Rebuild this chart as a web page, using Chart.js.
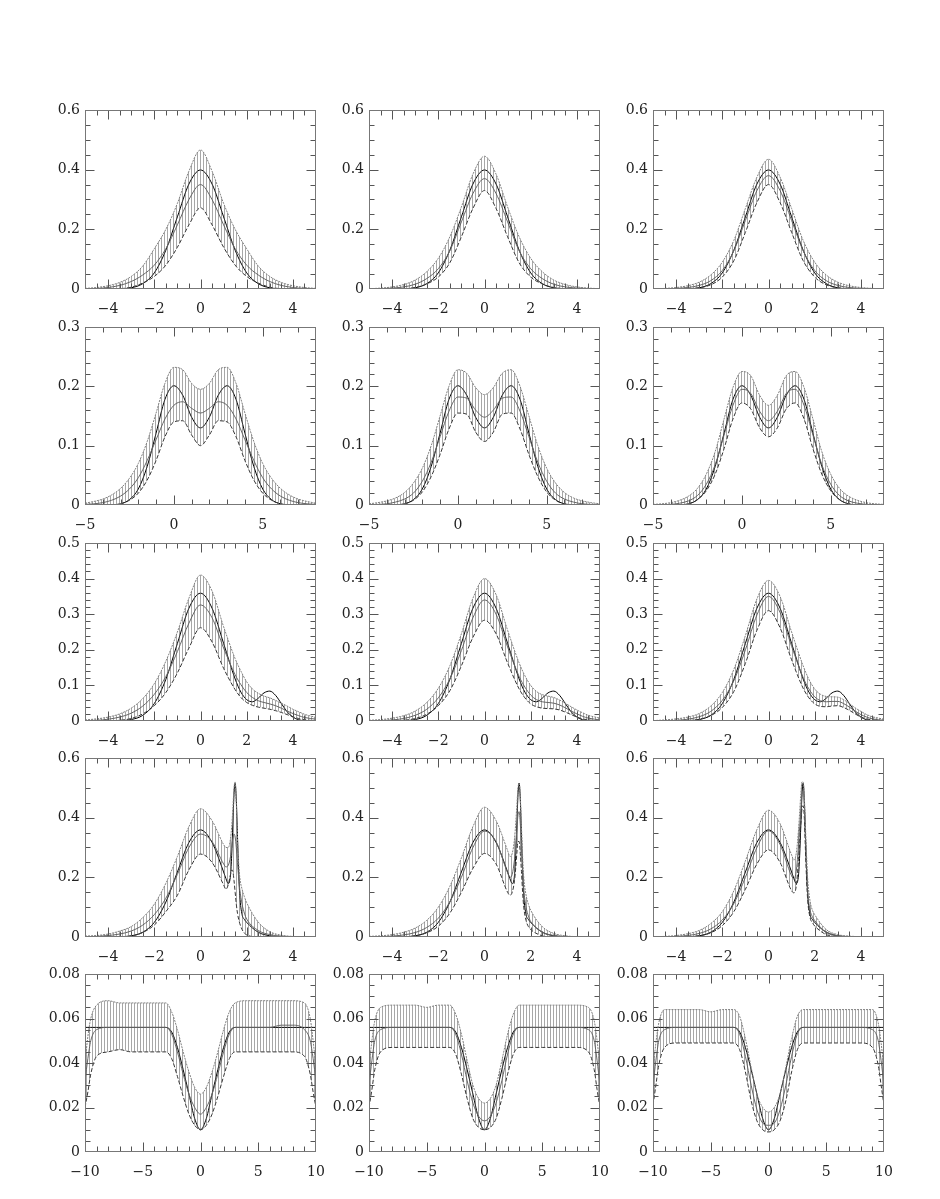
<!DOCTYPE html>
<html>
<head>
<meta charset="utf-8">
<title>Density estimates with bands</title>
<script src="https://cdn.jsdelivr.net/npm/chart.js@4.4.1/dist/chart.umd.min.js"></script>
<style>
  body { margin: 0; background: #fff; }
  #page { position: relative; width: 940px; height: 1199px; overflow: hidden; }
  .panel { position: absolute; }
</style>
</head>
<body>
<div id="page"></div>
<script>
// ---- x grids ----
const xRow1 = [-5,-4.5,-4,-3.5,-3,-2.5,-2,-1.5,-1,-0.5,0,0.5,1,1.5,2,2.5,3,3.5,4,4.5,5];
const xRow2 = [-5,-4.5,-4,-3.5,-3,-2.5,-2,-1.5,-1,-0.5,0,0.5,1,1.5,2,2.5,3,3.5,4,4.5,5,5.5,6,6.5,7,7.5,8];
const xRow3 = [-5,-4.5,-4,-3.5,-3,-2.5,-2,-1.5,-1,-0.5,0,0.5,1,1.5,1.75,2,2.25,2.5,2.75,3,3.25,3.5,3.75,4,4.25,4.5,5];
const xRow4 = [-5,-4.5,-4,-3.5,-3,-2.5,-2,-1.5,-1,-0.5,0,0.5,1,1.1,1.2,1.3,1.35,1.4,1.45,1.5,1.55,1.6,1.65,1.7,1.8,1.9,2,2.5,3,3.5,4,4.5,5];
const xRow5 = [-10,-9.75,-9.5,-9,-8,-7,-6,-5,-4,-3,-2.5,-2,-1.5,-1,-0.5,0,0.5,1,1.5,2,2.5,3,4,5,6,7,8,9,9.5,9.75,10];

// ---- tick labels ----
const xTicks5 = [-4,-2,0,2,4];
const xTicks8 = [-5,0,5];
const xTicks10 = [-10,-5,0,5,10];
const yTicks06 = [0,0.2,0.4,0.6];
const yTicks03 = [0,0.1,0.2,0.3];
const yTicks05 = [0,0.1,0.2,0.3,0.4,0.5];
const yTicks008 = [0,0.02,0.04,0.06,0.08];

// ---- row 1 ----
const true1 = [0,0,0.0001,0.0009,0.004,0.018,0.054,0.13,0.242,0.352,0.399,0.352,0.242,0.13,0.054,0.018,0.004,0.0009,0.0001,0,0];
const mean11 = [0.001,0.002,0.005,0.012,0.025,0.047,0.08,0.135,0.215,0.3,0.35,0.3,0.215,0.135,0.08,0.047,0.025,0.012,0.005,0.002,0.001];
const upper11 = [0.002,0.005,0.011,0.022,0.042,0.077,0.135,0.2,0.287,0.395,0.466,0.395,0.287,0.2,0.135,0.077,0.042,0.022,0.011,0.005,0.002];
const lower11 = [0,0,0,0.001,0.006,0.02,0.042,0.08,0.14,0.215,0.272,0.215,0.14,0.08,0.042,0.02,0.006,0.001,0,0,0];
const mean12 = [0,0.001,0.003,0.007,0.016,0.035,0.068,0.128,0.225,0.32,0.37,0.32,0.225,0.128,0.068,0.035,0.016,0.007,0.003,0.001,0];
const upper12 = [0.001,0.003,0.007,0.015,0.03,0.058,0.103,0.175,0.275,0.385,0.445,0.385,0.275,0.175,0.103,0.058,0.03,0.015,0.007,0.003,0.001];
const lower12 = [0,0,0,0.001,0.005,0.017,0.04,0.088,0.175,0.27,0.33,0.27,0.175,0.088,0.04,0.017,0.005,0.001,0,0,0];
const mean13 = [0,0,0.002,0.005,0.012,0.028,0.062,0.128,0.23,0.33,0.38,0.33,0.23,0.128,0.062,0.028,0.012,0.005,0.002,0,0];
const upper13 = [0,0.002,0.005,0.011,0.023,0.047,0.09,0.163,0.27,0.375,0.435,0.375,0.27,0.163,0.09,0.047,0.023,0.011,0.005,0.002,0];
const lower13 = [0,0,0,0.001,0.004,0.014,0.04,0.095,0.19,0.29,0.35,0.29,0.19,0.095,0.04,0.014,0.004,0.001,0,0,0];

// ---- row 2 ----
const true2 = [0,0,0.0001,0.0004,0.002,0.009,0.027,0.065,0.121,0.178,0.201,0.185,0.148,0.13,0.148,0.185,0.201,0.178,0.121,0.065,0.027,0.009,0.002,0.0004,0.0001,0,0];
const mean21 = [0.001,0.002,0.004,0.008,0.015,0.027,0.046,0.075,0.11,0.145,0.168,0.174,0.163,0.155,0.163,0.174,0.168,0.145,0.11,0.075,0.046,0.027,0.015,0.008,0.004,0.002,0.001];
const upper21 = [0.003,0.006,0.01,0.017,0.028,0.045,0.07,0.107,0.155,0.205,0.232,0.228,0.205,0.195,0.205,0.228,0.232,0.205,0.155,0.107,0.07,0.045,0.028,0.017,0.01,0.006,0.003];
const lower21 = [0,0,0,0,0.002,0.008,0.02,0.042,0.075,0.115,0.14,0.142,0.118,0.1,0.118,0.142,0.14,0.115,0.075,0.042,0.02,0.008,0.002,0,0,0,0];
const mean22 = [0,0.001,0.002,0.005,0.01,0.02,0.04,0.072,0.115,0.158,0.182,0.18,0.16,0.148,0.16,0.18,0.182,0.158,0.115,0.072,0.04,0.02,0.01,0.005,0.002,0.001,0];
const upper22 = [0.002,0.004,0.007,0.012,0.021,0.037,0.062,0.1,0.15,0.2,0.228,0.222,0.198,0.186,0.198,0.222,0.228,0.2,0.15,0.1,0.062,0.037,0.021,0.012,0.007,0.004,0.002];
const lower22 = [0,0,0,0,0.002,0.008,0.022,0.048,0.085,0.128,0.155,0.153,0.123,0.107,0.123,0.153,0.155,0.128,0.085,0.048,0.022,0.008,0.002,0,0,0,0];
const mean23 = [0,0,0.001,0.003,0.007,0.016,0.035,0.068,0.118,0.168,0.195,0.188,0.158,0.142,0.158,0.188,0.195,0.168,0.118,0.068,0.035,0.016,0.007,0.003,0.001,0,0];
const upper23 = [0.001,0.002,0.004,0.008,0.015,0.028,0.052,0.09,0.145,0.198,0.225,0.218,0.185,0.168,0.185,0.218,0.225,0.198,0.145,0.09,0.052,0.028,0.015,0.008,0.004,0.002,0.001];
const lower23 = [0,0,0,0,0.002,0.009,0.024,0.052,0.095,0.145,0.172,0.162,0.13,0.115,0.13,0.162,0.172,0.145,0.095,0.052,0.024,0.009,0.002,0,0,0,0];

// ---- row 3 ----
const true3 = [0,0,0.0001,0.0008,0.004,0.016,0.049,0.117,0.218,0.317,0.359,0.317,0.218,0.118,0.081,0.06,0.054,0.064,0.079,0.084,0.072,0.049,0.026,0.011,0.0035,0.0009,0];
const mean31 = [0.001,0.002,0.005,0.011,0.022,0.042,0.075,0.125,0.195,0.275,0.326,0.29,0.205,0.13,0.102,0.08,0.066,0.057,0.052,0.048,0.043,0.036,0.028,0.021,0.015,0.01,0.005];
const upper31 = [0.003,0.006,0.011,0.02,0.036,0.063,0.105,0.168,0.25,0.345,0.41,0.365,0.265,0.175,0.14,0.11,0.09,0.078,0.07,0.065,0.058,0.05,0.042,0.033,0.026,0.019,0.01];
const lower31 = [0,0,0,0.002,0.007,0.02,0.043,0.08,0.135,0.205,0.262,0.222,0.148,0.088,0.066,0.052,0.044,0.039,0.036,0.033,0.029,0.024,0.018,0.012,0.007,0.004,0];
const mean32 = [0,0.001,0.003,0.007,0.016,0.033,0.065,0.118,0.198,0.29,0.34,0.3,0.208,0.125,0.095,0.073,0.06,0.054,0.052,0.05,0.045,0.037,0.028,0.02,0.013,0.008,0.003];
const upper32 = [0.002,0.004,0.008,0.015,0.028,0.052,0.092,0.155,0.245,0.345,0.4,0.355,0.255,0.163,0.127,0.1,0.083,0.074,0.07,0.066,0.059,0.05,0.04,0.031,0.023,0.016,0.008];
const lower32 = [0,0,0,0.002,0.007,0.019,0.043,0.085,0.155,0.235,0.283,0.245,0.163,0.09,0.065,0.048,0.04,0.036,0.035,0.034,0.031,0.025,0.018,0.011,0.006,0.003,0];
const mean33 = [0,0,0.002,0.005,0.012,0.027,0.058,0.113,0.2,0.298,0.35,0.305,0.21,0.122,0.09,0.068,0.057,0.054,0.055,0.055,0.049,0.039,0.028,0.018,0.011,0.006,0.002];
const upper33 = [0.001,0.003,0.006,0.011,0.021,0.042,0.08,0.145,0.24,0.343,0.395,0.35,0.25,0.155,0.117,0.09,0.075,0.069,0.068,0.067,0.06,0.049,0.037,0.027,0.018,0.012,0.005];
const lower33 = [0,0,0,0.001,0.005,0.015,0.038,0.083,0.162,0.255,0.31,0.262,0.172,0.092,0.065,0.048,0.041,0.04,0.042,0.043,0.038,0.03,0.02,0.011,0.006,0.003,0];

// ---- row 4 ----
const true4 = [0,0,0.0001,0.0008,0.004,0.016,0.049,0.117,0.218,0.317,0.359,0.317,0.218,0.196,0.179,0.208,0.274,0.376,0.477,0.516,0.46,0.342,0.222,0.139,0.075,0.059,0.049,0.016,0.004,0.0008,0.0001,0,0];
const mean41 = [0.001,0.002,0.005,0.01,0.02,0.04,0.075,0.13,0.21,0.3,0.345,0.32,0.245,0.235,0.24,0.27,0.3,0.33,0.345,0.335,0.3,0.25,0.2,0.16,0.11,0.08,0.06,0.022,0.008,0.003,0.001,0,0];
const upper41 = [0.003,0.005,0.01,0.02,0.035,0.065,0.11,0.18,0.27,0.37,0.43,0.39,0.31,0.3,0.3,0.33,0.37,0.43,0.5,0.52,0.45,0.33,0.25,0.2,0.16,0.135,0.115,0.05,0.018,0.006,0.002,0.001,0];
const lower41 = [0,0,0,0,0.003,0.015,0.04,0.085,0.14,0.225,0.278,0.25,0.175,0.16,0.175,0.21,0.225,0.22,0.19,0.15,0.11,0.08,0.06,0.045,0.025,0.013,0.007,0,0,0,0,0,0];
const mean42 = [0,0.001,0.003,0.007,0.015,0.032,0.063,0.118,0.2,0.3,0.355,0.32,0.215,0.2,0.21,0.26,0.3,0.36,0.41,0.42,0.38,0.3,0.22,0.16,0.1,0.07,0.052,0.017,0.005,0.001,0,0,0];
const upper42 = [0.002,0.004,0.008,0.016,0.03,0.056,0.1,0.17,0.265,0.37,0.435,0.39,0.29,0.27,0.28,0.33,0.38,0.44,0.5,0.515,0.47,0.37,0.27,0.2,0.14,0.11,0.09,0.035,0.012,0.004,0.001,0,0];
const lower42 = [0,0,0,0,0.004,0.014,0.036,0.08,0.15,0.23,0.28,0.245,0.15,0.14,0.15,0.19,0.23,0.28,0.32,0.32,0.28,0.22,0.15,0.1,0.055,0.035,0.025,0.004,0,0,0,0,0];
const mean43 = [0,0,0.002,0.005,0.012,0.027,0.057,0.112,0.2,0.3,0.356,0.31,0.205,0.195,0.22,0.31,0.37,0.43,0.48,0.49,0.44,0.33,0.23,0.15,0.09,0.068,0.055,0.016,0.004,0.001,0,0,0];
const upper43 = [0.001,0.002,0.005,0.011,0.022,0.045,0.085,0.155,0.255,0.36,0.425,0.38,0.275,0.258,0.28,0.36,0.42,0.48,0.52,0.52,0.47,0.37,0.27,0.19,0.12,0.09,0.075,0.025,0.008,0.003,0.001,0,0];
const lower43 = [0,0,0,0,0.004,0.014,0.038,0.085,0.16,0.245,0.292,0.25,0.155,0.148,0.17,0.26,0.32,0.38,0.43,0.44,0.4,0.29,0.19,0.12,0.065,0.048,0.037,0.008,0.001,0,0,0,0];

// ---- row 5 ----
const true5 = [0.056,0.056,0.056,0.056,0.056,0.056,0.056,0.056,0.056,0.056,0.054,0.047,0.037,0.026,0.015,0.01,0.015,0.026,0.037,0.047,0.054,0.056,0.056,0.056,0.056,0.056,0.056,0.056,0.056,0.056,0.056];
const mean51 = [0.032,0.042,0.05,0.055,0.056,0.056,0.056,0.056,0.056,0.056,0.053,0.045,0.035,0.026,0.02,0.017,0.02,0.026,0.035,0.045,0.053,0.056,0.056,0.056,0.056,0.057,0.057,0.055,0.05,0.042,0.032];
const upper51 = [0.04,0.052,0.06,0.066,0.068,0.067,0.067,0.067,0.067,0.067,0.063,0.055,0.045,0.036,0.029,0.026,0.029,0.036,0.045,0.055,0.063,0.067,0.068,0.068,0.068,0.068,0.068,0.067,0.06,0.05,0.038];
const lower51 = [0.02,0.027,0.035,0.043,0.045,0.046,0.045,0.045,0.045,0.045,0.042,0.034,0.025,0.017,0.012,0.01,0.012,0.017,0.025,0.034,0.042,0.045,0.045,0.045,0.045,0.045,0.045,0.043,0.035,0.027,0.02];
const mean52 = [0.03,0.041,0.05,0.055,0.056,0.056,0.056,0.056,0.056,0.056,0.053,0.044,0.032,0.022,0.016,0.014,0.016,0.022,0.032,0.044,0.053,0.056,0.056,0.056,0.056,0.056,0.056,0.055,0.05,0.041,0.03];
const upper52 = [0.038,0.05,0.059,0.065,0.066,0.066,0.066,0.065,0.066,0.066,0.062,0.053,0.041,0.03,0.024,0.022,0.024,0.03,0.041,0.053,0.062,0.066,0.066,0.066,0.066,0.066,0.066,0.065,0.059,0.05,0.038];
const lower52 = [0.02,0.028,0.037,0.045,0.047,0.047,0.047,0.047,0.047,0.047,0.044,0.035,0.024,0.015,0.011,0.01,0.011,0.015,0.024,0.035,0.044,0.047,0.047,0.047,0.047,0.047,0.047,0.045,0.037,0.028,0.02];
const mean53 = [0.03,0.041,0.05,0.055,0.056,0.056,0.056,0.056,0.056,0.056,0.053,0.043,0.03,0.019,0.013,0.012,0.013,0.019,0.03,0.043,0.053,0.056,0.056,0.056,0.056,0.056,0.056,0.055,0.05,0.041,0.03];
const upper53 = [0.037,0.049,0.058,0.064,0.064,0.064,0.064,0.063,0.064,0.064,0.061,0.051,0.038,0.026,0.02,0.018,0.02,0.026,0.038,0.051,0.061,0.064,0.064,0.064,0.064,0.064,0.064,0.064,0.058,0.049,0.037];
const lower53 = [0.021,0.03,0.039,0.047,0.049,0.049,0.049,0.049,0.049,0.049,0.046,0.036,0.023,0.014,0.01,0.009,0.01,0.014,0.023,0.036,0.046,0.049,0.049,0.049,0.049,0.049,0.049,0.047,0.039,0.03,0.021];

// ---- layout (pixels) ----
const COL_LEFT = [85, 369, 653];
const ROW_TOP = [110, 327, 543, 758, 974];
const ROW_H = [179, 178, 178, 179, 178];
const BOX_W = 231;
const PAD_L = 50, PAD_T = 12, PAD_R = 12, PAD_B = 30;

const rows = [
  { xs: xRow1, truth: true1, xMin: -5, xMax: 5, xMinor: 0.5, xMajor: 2, xLabels: xTicks5,
    yMax: 0.6, yMinor: 0.05, yMajor: 0.2, yLabels: yTicks06,
    cols: [[upper11, lower11, mean11], [upper12, lower12, mean12], [upper13, lower13, mean13]] },
  { xs: xRow2, truth: true2, xMin: -5, xMax: 8, xMinor: 1, xMajor: 5, xLabels: xTicks8,
    yMax: 0.3, yMinor: 0.02, yMajor: 0.1, yLabels: yTicks03,
    cols: [[upper21, lower21, mean21], [upper22, lower22, mean22], [upper23, lower23, mean23]] },
  { xs: xRow3, truth: true3, xMin: -5, xMax: 5, xMinor: 0.5, xMajor: 2, xLabels: xTicks5,
    yMax: 0.5, yMinor: 0.02, yMajor: 0.1, yLabels: yTicks05,
    cols: [[upper31, lower31, mean31], [upper32, lower32, mean32], [upper33, lower33, mean33]] },
  { xs: xRow4, truth: true4, xMin: -5, xMax: 5, xMinor: 0.5, xMajor: 2, xLabels: xTicks5,
    yMax: 0.6, yMinor: 0.05, yMajor: 0.2, yLabels: yTicks06,
    cols: [[upper41, lower41, mean41], [upper42, lower42, mean42], [upper43, lower43, mean43]] },
  { xs: xRow5, truth: true5, xMin: -10, xMax: 10, xMinor: 1, xMajor: 5, xLabels: xTicks10,
    yMax: 0.08, yMinor: 0.005, yMajor: 0.02, yLabels: yTicks008,
    cols: [[upper51, lower51, mean51], [upper52, lower52, mean52], [upper53, lower53, mean53]] }
];

Chart.defaults.font.family = '"DejaVu Serif", "Liberation Serif", serif';
Chart.defaults.font.size = 14;
Chart.defaults.color = '#222';

function steps(min, max, step) {
  const out = [];
  for (let i = Math.ceil(min / step - 1e-9); i * step <= max + 1e-9; i++) out.push(i * step);
  return out;
}
function isMajor(v, major) {
  const r = v / major;
  return Math.abs(r - Math.round(r)) < 1e-6;
}

// box with inward ticks on all four sides
const frameTicks = {
  id: 'frameTicks',
  afterDatasetsDraw(chart, args, opts) {
    const { ctx, chartArea: a, scales: { x, y } } = chart;
    const L = Math.round(a.left) + 0.5, R = Math.round(a.right) - 0.5;
    const T = Math.round(a.top) + 0.5, B = Math.round(a.bottom) - 0.5;
    ctx.save();
    ctx.lineWidth = 1;
    ctx.strokeStyle = '#555';
    ctx.beginPath();
    steps(opts.xMin, opts.xMax, opts.xMinor).forEach(v => {
      if (v <= opts.xMin || v >= opts.xMax) return;
      const px = Math.round(x.getPixelForValue(v)) + 0.5;
      const len = isMajor(v, opts.xMajor) ? 9 : 5;
      ctx.moveTo(px, B); ctx.lineTo(px, B - len);
      ctx.moveTo(px, T); ctx.lineTo(px, T + len);
    });
    steps(0, opts.yMax, opts.yMinor).forEach(v => {
      if (v <= 0 || v >= opts.yMax - 1e-9) return;
      const py = Math.round(y.getPixelForValue(v)) + 0.5;
      const len = isMajor(v, opts.yMajor) ? 9 : 5;
      ctx.moveTo(L, py); ctx.lineTo(L + len, py);
      ctx.moveTo(R, py); ctx.lineTo(R - len, py);
    });
    ctx.stroke();
    ctx.strokeStyle = '#777';
    ctx.strokeRect(L, T, R - L, B - T);
    ctx.restore();
  }
};

function fmt(v) {
  const s = String(Math.abs(v));
  return v < 0 ? '\u2212' + s : s;
}

function hatchPattern(ctx) {
  const c = document.createElement('canvas');
  c.width = 3; c.height = 2;
  const g = c.getContext('2d');
  g.fillStyle = 'rgba(95,95,95,0.55)';
  g.fillRect(0, 0, 1, 2);
  return ctx.createPattern(c, 'repeat');
}

const page = document.getElementById('page');

rows.forEach((row, r) => {
  row.cols.forEach(([upper, lower, mean], c) => {
    const w = PAD_L + BOX_W + PAD_R;
    const h = PAD_T + ROW_H[r] + PAD_B;
    const div = document.createElement('div');
    div.className = 'panel';
    div.style.left = (COL_LEFT[c] - PAD_L) + 'px';
    div.style.top = (ROW_TOP[r] - PAD_T) + 'px';
    const canvas = document.createElement('canvas');
    canvas.width = w; canvas.height = h;
    canvas.style.width = w + 'px'; canvas.style.height = h + 'px';
    div.appendChild(canvas);
    page.appendChild(div);

    const ctx = canvas.getContext('2d');
    const pts = ys => row.xs.map((x, i) => ({ x: x, y: ys[i] }));

    new Chart(ctx, {
      type: 'line',
      data: {
        datasets: [
          { label: 'upper', data: pts(upper), borderColor: '#808080', borderWidth: 1,
            borderDash: [2, 1], fill: '+1', backgroundColor: hatchPattern(ctx) },
          { label: 'lower', data: pts(lower), borderColor: '#333', borderWidth: 1,
            borderDash: [4, 2], fill: false },
          { label: 'mean', data: pts(mean), borderColor: '#666', borderWidth: 1, fill: false },
          { label: 'true', data: pts(row.truth), borderColor: '#000', borderWidth: 1, fill: false }
        ]
      },
      options: {
        responsive: false,
        animation: false,
        events: [],
        layout: { padding: { top: PAD_T, right: PAD_R, left: 0, bottom: 0 } },
        elements: { point: { radius: 0 }, line: { cubicInterpolationMode: 'monotone' } },
        plugins: {
          legend: { display: false },
          tooltip: { enabled: false },
          frameTicks: { xMin: row.xMin, xMax: row.xMax, xMinor: row.xMinor, xMajor: row.xMajor,
                        yMax: row.yMax, yMinor: row.yMinor, yMajor: row.yMajor }
        },
        scales: {
          x: {
            type: 'linear', min: row.xMin, max: row.xMax,
            grid: { display: false, drawTicks: false }, border: { display: false },
            afterFit(s) { s.height = PAD_B; s.paddingLeft = 0; s.paddingRight = 0; },
            afterBuildTicks(s) { s.ticks = row.xLabels.map(v => ({ value: v })); },
            ticks: { padding: 12, maxRotation: 0, autoSkip: false, callback: v => fmt(v) }
          },
          y: {
            type: 'linear', min: 0, max: row.yMax,
            grid: { display: false, drawTicks: false }, border: { display: false },
            afterFit(s) { s.width = PAD_L; s.paddingTop = 0; s.paddingBottom = 0; },
            afterBuildTicks(s) { s.ticks = row.yLabels.map(v => ({ value: v })); },
            ticks: { padding: 5, autoSkip: false, callback: v => fmt(v) }
          }
        }
      },
      plugins: [frameTicks]
    });
  });
});
</script>
</body>
</html>
